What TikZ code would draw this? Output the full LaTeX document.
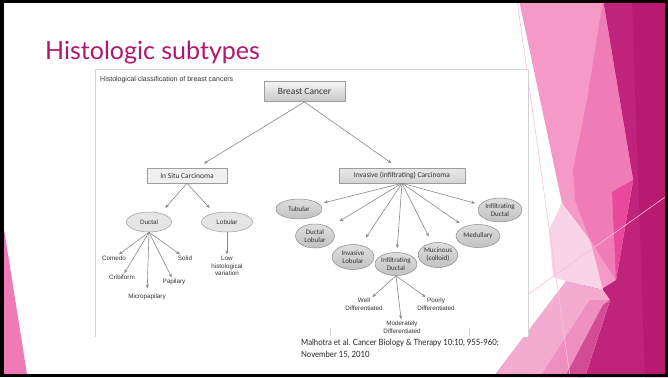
\documentclass[tikz,border=0pt]{standalone}
\usepackage{fontspec}
\usetikzlibrary{arrows.meta,shapes.geometric}
\newfontfamily\arialf{Liberation Sans}
\newfontfamily\calf{Carlito}
\newfontfamily\titlef{Lato}
\definecolor{titlec}{HTML}{B0186E}
\definecolor{magA}{HTML}{C0237A}
\definecolor{magB}{HTML}{B81A70}
\definecolor{lpink}{HTML}{F59AC8}
\definecolor{mpink}{HTML}{F07CB7}
\definecolor{hpink}{HTML}{E9489B}
\definecolor{ppink}{HTML}{F9D3E6}
\definecolor{lowp}{HTML}{F4ABD0}
\definecolor{lowq}{HTML}{EE8FC0}
\definecolor{lowm}{HTML}{D24C93}
\definecolor{linep}{HTML}{F7C2DD}
\definecolor{leftp}{HTML}{F07AB6}
\definecolor{panelc}{HTML}{D2D2D2}
\definecolor{arrc}{HTML}{8A8A8A}
\definecolor{boxc}{HTML}{9D9D9D}
\definecolor{txtc}{HTML}{333333}
\begin{document}
\begin{tikzpicture}[x=1pt,y=-1pt,
  arr/.style={draw=arrc, line width=0.6pt, -{Stealth[length=4pt,width=3.2pt]}},
  boxnode/.style={rectangle, draw=boxc, line width=0.5pt, inner sep=0pt, text=txtc, font=\calf\fontsize{7.5}{9}\selectfont},
  ellA/.style={ellipse, draw=boxc, line width=0.5pt, fill=black!10, inner sep=0pt, text=txtc, font=\arialf\fontsize{6.3}{8}\selectfont},
  ellB/.style={ellipse, draw=black!45, line width=0.5pt, top color=black!13, bottom color=black!24, inner sep=0pt, align=center, text=txtc, font=\calf\fontsize{7}{8}\selectfont},
  leaf/.style={inner sep=0.5pt, align=center, text=txtc, font=\arialf\fontsize{6.3}{7.6}\selectfont}
]
\useasboundingbox (0,0) rectangle (668,377);
\fill[white] (0,0) rectangle (668,377);
% background facets
\fill[magA] (603,0) -- (668,0) -- (668,377) -- (578,377) -- cycle;
\fill[magB] (632,0) -- (668,0) -- (668,377) -- (645,377) -- cycle;
\fill[lpink] (519,0) -- (603,0) -- (633,180) -- (616,280) -- (600,290) -- (562,203) -- cycle;
\fill[mpink] (603,0) -- (633,180) -- (616,280) -- (590,240) -- (575,200) -- (573,170) -- (587,100) -- cycle;
\fill[hpink] (633,180) -- (612,192) -- (616,280) -- cycle;
\fill[ppink] (562,203) -- (590,240) -- (603,290) -- (566,281) -- (553,277) -- (549,230) -- cycle;
\fill[lowp] (493,377) -- (566,281) -- (603,290) -- (610,300) -- (585,377) -- cycle;
\fill[lowq] (540,377) -- (590,300) -- (610,300) -- (585,377) -- cycle;
\fill[lowm] (565,377) -- (603,305) -- (610,300) -- (585,377) -- cycle;
\draw[linep, line width=0.6pt] (517,0) -- (570,377);
\draw[linep, line width=0.6pt] (520,300) -- (668,195);
\fill[leftp] (3,223) -- (3,374) -- (27,374) -- cycle;
% title
\node[anchor=base west, inner sep=0pt, text=titlec, font=\titlef\fontsize{25}{30}\selectfont] (title) at (45,60) {Histologic subtypes};
% panel
\fill[white] (95,70) rectangle (528,337);
\draw[panelc, line width=1pt] (95,337) -- (95,70) -- (528,70) -- (528,337);
\draw[panelc, line width=0.8pt] (330,328) -- (330,336);
\draw[panelc, line width=0.8pt] (469,328) -- (469,336);
\node[anchor=west, inner sep=0pt, text=txtc, font=\arialf\fontsize{7}{8}\selectfont] (cap) at (100,80) {Histological classification of breast cancers};
% boxes
\node[boxnode, minimum width=81pt, minimum height=20pt, top color=black!4, bottom color=black!22, font=\calf\fontsize{9.5}{11}\selectfont] (bc) at (304.5,91.7) {Breast Cancer};
\node[boxnode, minimum width=80pt, minimum height=15pt, fill=black!6] (insitu) at (187,175.5) {In Situ Carcinoma};
\node[boxnode, minimum width=126pt, minimum height=15pt, top color=black!9, bottom color=black!17] (inv) at (402,175.5) {Invasive (infiltrating) Carcinoma};
% in situ branch
\node[ellA, minimum width=45pt, minimum height=20pt] (ductal) at (149,222) {Ductal};
\node[ellA, minimum width=51pt, minimum height=20pt] (lobular) at (227,222) {Lobular};
\node[leaf] (comedo) at (114,258) {Comedo};
\node[leaf] (cribi) at (122,277) {Cribiform};
\node[leaf] (micro) at (147,297) {Micropapilary};
\node[leaf] (papil) at (174,282) {Papilary};
\node[leaf] (solid) at (185,258) {Solid};
\node[leaf] (low) at (227,266) {Low\\histological\\variation};
% invasive branch
\node[ellB, minimum width=46pt, minimum height=20pt] (tub) at (299,209) {Tubular};
\node[ellB, minimum width=39pt, minimum height=24pt] (dl) at (315,236) {Ductal\\Lobular};
\node[ellB, minimum width=42pt, minimum height=25pt] (il) at (353,257) {Invasive\\Lobular};
\node[ellB, minimum width=42pt, minimum height=23pt] (id) at (396,264) {Infiltrating\\Ductal};
\node[ellB, minimum width=37pt, minimum height=25pt] (muc) at (438,255) {Mucinous\\(colloid)};
\node[ellB, minimum width=44pt, minimum height=23pt] (med) at (478,236) {Medullary};
\node[ellB, minimum width=44pt, minimum height=24pt] (idr) at (500,210) {Infiltrating\\Ductal};
\node[leaf] (well) at (364,304.5) {Well\\Differentiated};
\node[leaf] (mod) at (402,327) {Moderately\\Differentiated};
\node[leaf] (poor) at (436,304.5) {Poorly\\Differentiated};
% connectors
\draw[arr, shorten >=8pt] (bc.south) -- ([xshift=10pt]insitu.north);
\draw[arr, shorten >=8pt] (bc.south) -- ([xshift=-4pt]inv.north);
\draw[arr, shorten >=5pt] (insitu.south) -- ([xshift=13pt]ductal.north);
\draw[arr, shorten >=5pt] (insitu.south) -- ([xshift=-14pt]lobular.north);
\draw[arr, shorten >=1pt] (ductal.south) -- (comedo);
\draw[arr, shorten >=1pt] (ductal.south) -- (cribi);
\draw[arr, shorten >=5pt] (ductal.south) -- (micro);
\draw[arr, shorten >=1pt] (ductal.south) -- (papil);
\draw[arr, shorten >=1pt] (ductal.south) -- (solid);
\draw[arr, shorten >=1pt] (lobular.south) -- (low);
\draw[arr, shorten >=5pt] (inv.south) -- (tub);
\draw[arr, shorten >=12pt] (inv.south) -- (dl);
\draw[arr, shorten >=9pt] (inv.south) -- (il);
\draw[arr, shorten >=4pt] (inv.south) -- (id);
\draw[arr, shorten >=7pt] (inv.south) -- (muc);
\draw[arr, shorten >=6pt] (inv.south) -- (med);
\draw[arr, shorten >=5pt] (inv.south) -- (idr);
\draw[arr, shorten >=1pt] (id.south) -- (well);
\draw[arr, shorten >=1pt] (id.south) -- (mod);
\draw[arr, shorten >=1pt] (id.south) -- (poor);
% citation
\node[anchor=base west, align=left, inner sep=0pt, xscale=0.9, transform shape, text=black!85, font=\titlef\fontsize{8.6}{12}\selectfont] (cite) at (301,357) {Malhotra et al. Cancer Biology \& Therapy 10:10, 955-960;\\November 15, 2010};
% frame
\draw[black, line width=3.5pt] (1.75,1.75) rectangle (666.25,375.25);
\end{tikzpicture}
\end{document}
